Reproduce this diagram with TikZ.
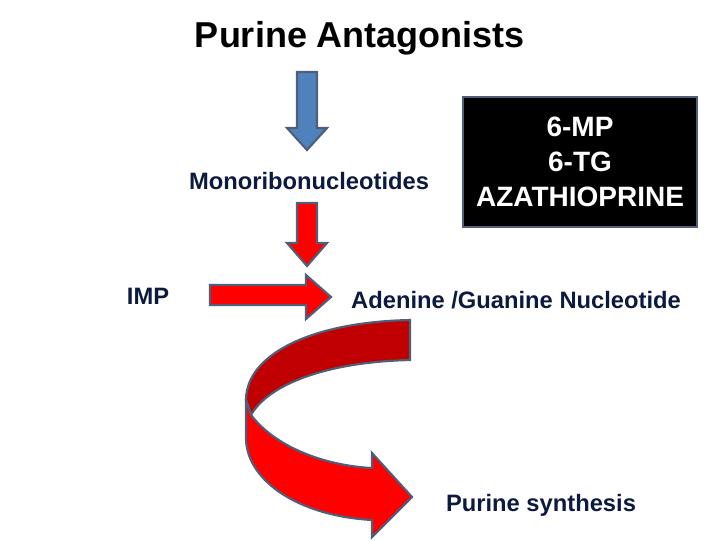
\documentclass[tikz,border=0pt]{standalone}
\usepackage{fontspec}
\setmainfont{Liberation Sans}
\begin{document}
\begin{tikzpicture}[x=0.75pt,y=-0.75pt,
  arr/.style={draw=edgec,line width=1.6pt,line join=miter},
  lbl/.style={text=navy,font=\bfseries,inner sep=0pt},
  med/.style={lbl,font=\bfseries\fontsize{17.8}{21}\selectfont}]
\definecolor{edgec}{HTML}{4F5F7A}
\definecolor{navy}{HTML}{0D1A40}
\definecolor{blu}{HTML}{4F81BD}
\definecolor{rd}{HTML}{FF0000}
\definecolor{drd}{HTML}{C00000}
\useasboundingbox (0,0) rectangle (720,540);
\node[lbl,text=black,font=\bfseries\fontsize{27}{32}\selectfont] (title) at (360,38) {Purine Antagonists};
% blue down arrow
\draw[arr,fill=blu] (297,72) -- (317,72) -- (317,128) -- (327,128) -- (307,150) -- (287,128) -- (297,128) -- cycle;
\node[med] (mono) at (309,181) {Monoribonucleotides};
% red down arrow
\draw[arr,fill=rd] (297,203) -- (317,203) -- (317,243) -- (327,243) -- (307,266) -- (287,243) -- (297,243) -- cycle;
\node[med] (imp) at (148,296) {IMP};
% horizontal arrow
\draw[arr,fill=rd] (210,285) -- (306,285) -- (306,275) -- (331,297) -- (306,319) -- (306,305) -- (210,305) -- cycle;
\node[med] (aden) at (516,300) {Adenine /Guanine Nucleotide};
% black box
\node[draw=edgec,line width=1.6pt,fill=black,text=white,minimum width=175pt,minimum height=97pt,align=center,font=\bfseries\fontsize{21}{26}\selectfont] (box) at (580,162) {6-MP\\6-TG\\AZATHIOPRINE};
% curved arrow
\draw[arr,fill=drd] (410,320) -- (410,360) .. controls (325,362) and (268,385) .. (251,415) -- (246,400) .. controls (246,355) and (310,322) .. (410,320) -- cycle;
\draw[arr,fill=rd] (251,415) .. controls (278,450) and (330,466) .. (372,468) -- (372,453) -- (412,497) -- (372,537) -- (372,520) .. controls (300,516) and (248,482) .. (246,440) -- (246,400) -- cycle;
\node[med] (pur) at (541,505) {Purine synthesis};
\end{tikzpicture}
\end{document}
